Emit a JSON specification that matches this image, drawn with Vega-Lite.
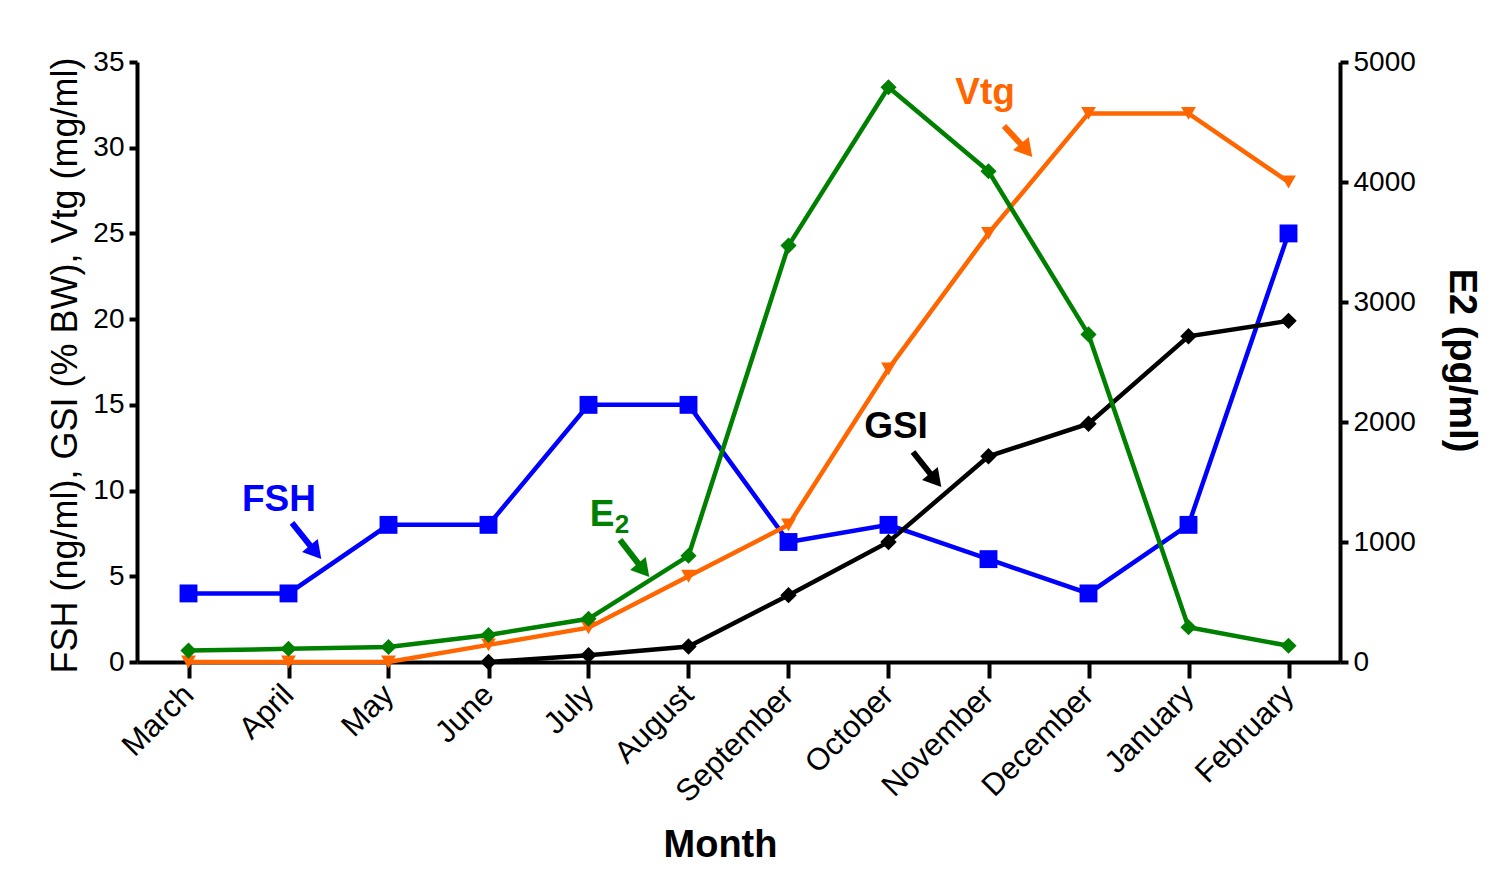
{
  "$schema": "https://vega.github.io/schema/vega-lite/v6.json",
  "width": 1203,
  "height": 600,
  "autosize": {"type": "none"},
  "padding": {"left": 137, "top": 62, "right": 160, "bottom": 231},
  "background": "white",
  "config": {"view": {"stroke": null}, "font": "Liberation Sans"},
  "datasets": {
    "left": [
      {"series": "FSH", "idx": 0, "value": 4}, {"series": "FSH", "idx": 1, "value": 4}, {"series": "FSH", "idx": 2, "value": 8}, {"series": "FSH", "idx": 3, "value": 8}, {"series": "FSH", "idx": 4, "value": 15}, {"series": "FSH", "idx": 5, "value": 15}, {"series": "FSH", "idx": 6, "value": 7}, {"series": "FSH", "idx": 7, "value": 8}, {"series": "FSH", "idx": 8, "value": 6}, {"series": "FSH", "idx": 9, "value": 4}, {"series": "FSH", "idx": 10, "value": 8}, {"series": "FSH", "idx": 11, "value": 25},
      {"series": "Vtg", "idx": 0, "value": 0}, {"series": "Vtg", "idx": 1, "value": 0}, {"series": "Vtg", "idx": 2, "value": 0}, {"series": "Vtg", "idx": 3, "value": 1}, {"series": "Vtg", "idx": 4, "value": 2}, {"series": "Vtg", "idx": 5, "value": 5}, {"series": "Vtg", "idx": 6, "value": 8}, {"series": "Vtg", "idx": 7, "value": 17.1}, {"series": "Vtg", "idx": 8, "value": 25}, {"series": "Vtg", "idx": 9, "value": 32}, {"series": "Vtg", "idx": 10, "value": 32}, {"series": "Vtg", "idx": 11, "value": 28},
      {"series": "GSI", "idx": 3, "value": 0}, {"series": "GSI", "idx": 4, "value": 0.4}, {"series": "GSI", "idx": 5, "value": 0.9}, {"series": "GSI", "idx": 6, "value": 3.9}, {"series": "GSI", "idx": 7, "value": 7}, {"series": "GSI", "idx": 8, "value": 12}, {"series": "GSI", "idx": 9, "value": 13.9}, {"series": "GSI", "idx": 10, "value": 19}, {"series": "GSI", "idx": 11, "value": 19.9}
    ],
    "e2": [
      {"series": "E2", "idx": 0, "value": 95}, {"series": "E2", "idx": 1, "value": 110}, {"series": "E2", "idx": 2, "value": 125}, {"series": "E2", "idx": 3, "value": 225}, {"series": "E2", "idx": 4, "value": 360}, {"series": "E2", "idx": 5, "value": 885}, {"series": "E2", "idx": 6, "value": 3470}, {"series": "E2", "idx": 7, "value": 4790}, {"series": "E2", "idx": 8, "value": 4090}, {"series": "E2", "idx": 9, "value": 2730}, {"series": "E2", "idx": 10, "value": 290}, {"series": "E2", "idx": 11, "value": 135}
    ],
    "labels": [
      {"series": "FSH", "label": "FSH", "idx": 0.905, "value": 9.45},
      {"series": "GSI", "label": "GSI", "idx": 7.075, "value": 13.71},
      {"series": "Vtg", "label": "Vtg", "idx": 7.965, "value": 33.19},
      {"series": "E2", "label": "E", "idx": 4.135, "value": 8.575}
    ],
    "subs": [
      {"series": "E2", "label": "2", "idx": 4.335, "value": 7.99}
    ],
    "arrows": [
      {"series": "FSH", "idx": 1.035, "value": 8.11, "idx2": 1.271, "value2": 6.4},
      {"series": "GSI", "idx": 7.245, "value": 12.25, "idx2": 7.471, "value2": 10.6},
      {"series": "E2", "idx": 4.315, "value": 7.12, "idx2": 4.551, "value2": 5.35},
      {"series": "Vtg", "idx": 8.155, "value": 31.27, "idx2": 8.381, "value2": 29.85}
    ]
  },
  "encoding": {
    "x": {
      "field": "idx", "type": "quantitative",
      "scale": {"domain": [-0.515, 11.515], "nice": false, "zero": false},
      "axis": {
        "title": "Month", "values": [0,1,2,3,4,5,6,7,8,9,10,11],
        "labelExpr": "['March','April','May','June','July','August','September','October','November','December','January','February'][datum.value]",
        "labelOverlap": false, "labelFlush": false, "labelBound": false,
        "grid": false, "domainColor": "black", "domainWidth": 4, "tickColor": "black", "tickWidth": 4, "tickSize": 16,
        "labelAngle": -45, "labelAlign": "right", "labelBaseline": "middle", "labelFontSize": 31, "labelColor": "black", "labelPadding": 12,
        "titleFontSize": 38, "titleFontWeight": "bold", "titleColor": "black", "titleX": 583, "titleY": 183, "titleAlign": "center", "titleBaseline": "middle"
      }
    },
    "color": {
      "field": "series", "type": "nominal",
      "scale": {"domain": ["FSH", "GSI", "Vtg", "E2"], "range": ["#0000FF", "#000000", "#FF6600", "#008000"]},
      "legend": null
    }
  },
  "layer": [
    {
      "encoding": {
        "y": {
          "field": "value", "type": "quantitative",
          "scale": {"domain": [0, 35], "nice": false},
          "axis": {
            "orient": "left", "title": "FSH (ng/ml), GSI (%  BW), Vtg (mg/ml)", "values": [0,5,10,15,20,25,30,35],
            "grid": false, "domainColor": "black", "domainWidth": 4, "tickColor": "black", "tickWidth": 4, "tickSize": 8,
            "labelFontSize": 28, "labelColor": "black", "labelPadding": 5,
            "titleFontSize": 36, "titleFontWeight": "normal", "titleColor": "black", "titleAngle": -90, "titleX": -72, "titleY": 303, "titleAlign": "center", "titleBaseline": "middle"
          }
        }
      },
      "layer": [
        {"data": {"name": "left"}, "mark": {"type": "line", "strokeWidth": 4.5}, "encoding": {"detail": {"field": "series"}}},
        {"data": {"name": "left"}, "mark": {"type": "point", "filled": true, "opacity": 1},
         "encoding": {
           "shape": {"field": "series", "type": "nominal", "scale": {"domain": ["FSH", "GSI", "Vtg"], "range": ["square", "diamond", "triangle-down"]}, "legend": null},
           "size": {"field": "series", "type": "nominal", "scale": {"domain": ["FSH", "GSI", "Vtg"], "range": [320, 220, 260]}, "legend": null}
         }},
        {"data": {"name": "arrows"}, "mark": {"type": "rule", "strokeWidth": 6},
         "encoding": {"x2": {"field": "idx2"}, "y2": {"field": "value2"}}},
        {"data": {"name": "arrows"}, "mark": {"type": "point", "shape": "triangle-right", "filled": true, "opacity": 1, "size": 420, "angle": 50},
         "encoding": {"x": {"field": "idx2", "type": "quantitative"}, "y": {"field": "value2", "type": "quantitative"}}},
        {"data": {"name": "labels"}, "mark": {"type": "text", "fontSize": 37, "fontWeight": "bold", "align": "center", "baseline": "middle"},
         "encoding": {"text": {"field": "label"}}},
        {"data": {"name": "subs"}, "mark": {"type": "text", "fontSize": 26, "fontWeight": "bold", "align": "center", "baseline": "middle"},
         "encoding": {"text": {"field": "label"}}}
      ]
    },
    {
      "data": {"name": "e2"},
      "encoding": {
        "y": {
          "field": "value", "type": "quantitative",
          "scale": {"domain": [0, 5000], "nice": false},
          "axis": {
            "orient": "right", "title": "E2 (pg/ml)", "values": [0,1000,2000,3000,4000,5000], "format": "d",
            "grid": false, "domainColor": "black", "domainWidth": 4, "tickColor": "black", "tickWidth": 4, "tickSize": 8,
            "labelFontSize": 28, "labelColor": "black", "labelPadding": 5,
            "titleFontSize": 38, "titleFontWeight": "bold", "titleColor": "black", "titleAngle": 90, "titleX": 120, "titleY": 298, "titleAlign": "center", "titleBaseline": "middle"
          }
        }
      },
      "layer": [
        {"mark": {"type": "line", "strokeWidth": 4.5}},
        {"mark": {"type": "point", "shape": "diamond", "filled": true, "opacity": 1, "size": 260}}
      ]
    }
  ],
  "resolve": {"scale": {"y": "independent"}}
}
